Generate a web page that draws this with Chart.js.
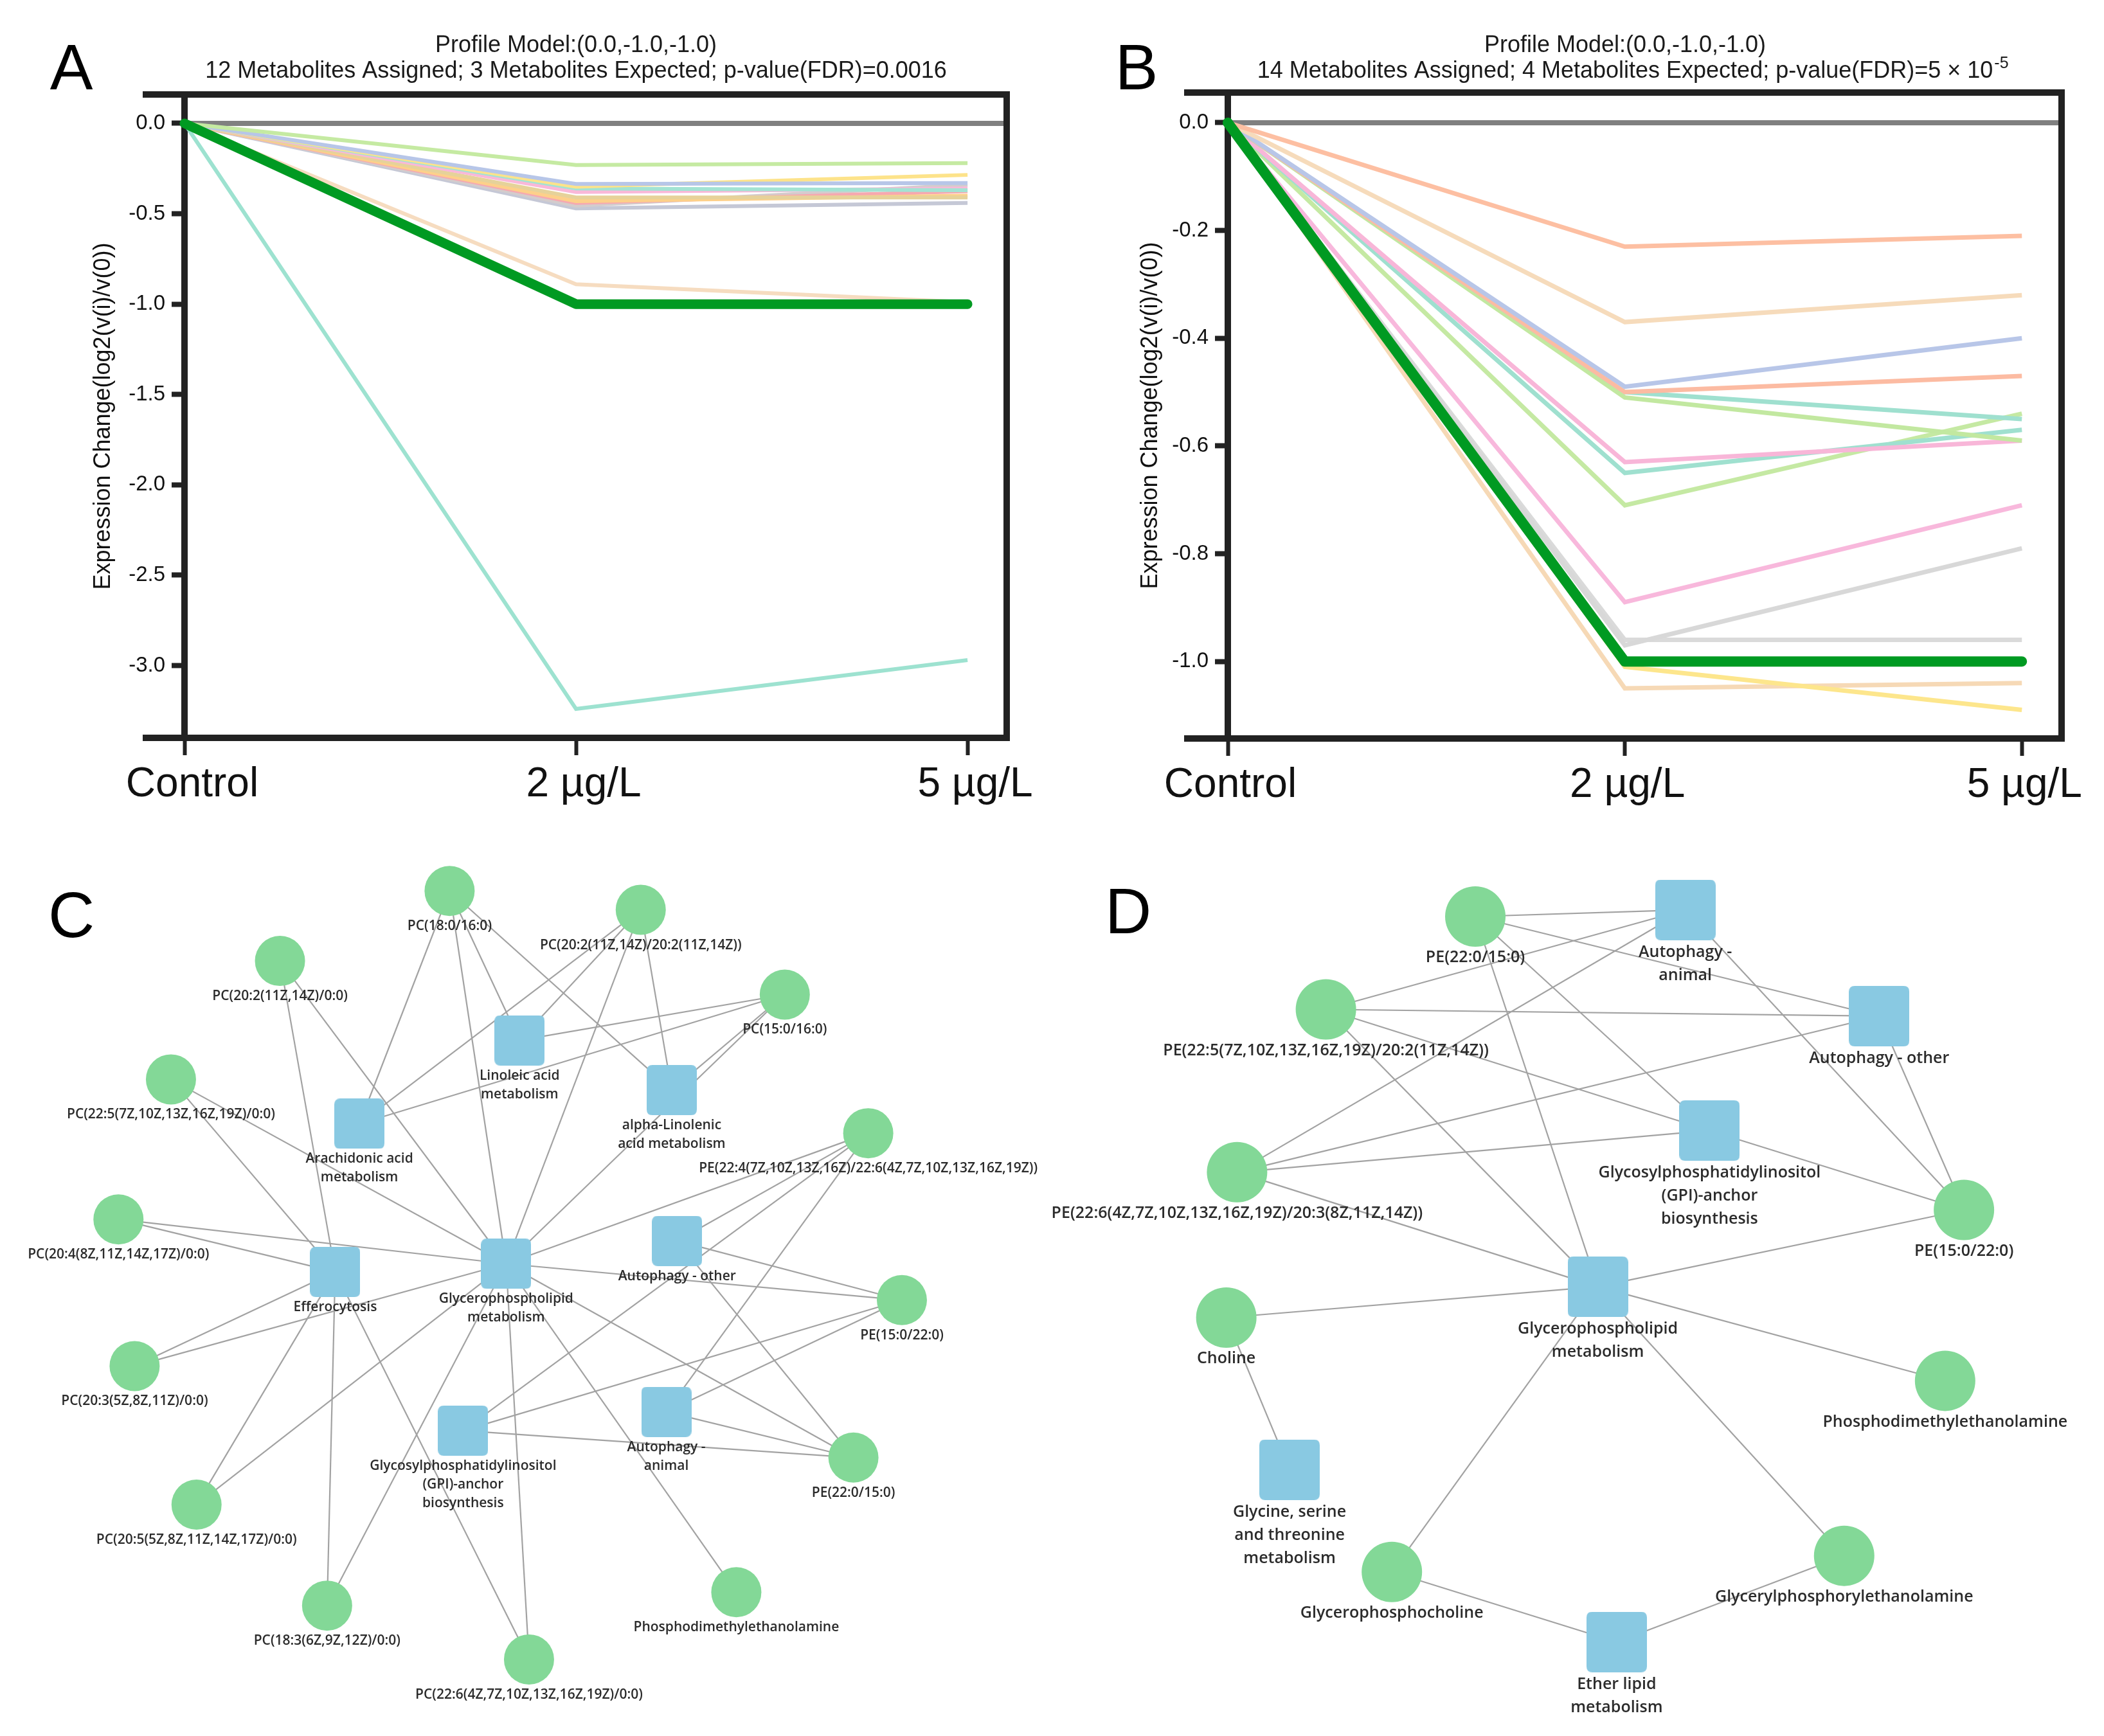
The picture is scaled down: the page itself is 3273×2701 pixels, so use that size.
<!DOCTYPE html>
<html><head><meta charset="utf-8">
<script src="https://cdn.jsdelivr.net/npm/chart.js@4.4.1/dist/chart.umd.min.js"></script>
<style>
html,body{margin:0;padding:0;background:#fff;}
#wrap{position:relative;width:3273px;height:2701px;background:#fff;overflow:hidden;}
canvas{position:absolute;display:block;}
</style></head><body><div id="wrap">
<canvas id="cA" width="1640" height="1300" style="left:0px;top:0px;width:1640px;height:1300px"></canvas>
<canvas id="cB" width="1633" height="1300" style="left:1640px;top:0px;width:1633px;height:1300px"></canvas>
<canvas id="cC" width="1640" height="1401" style="left:0px;top:1300px;width:1640px;height:1401px"></canvas>
<canvas id="cD" width="1713" height="1401" style="left:1560px;top:1300px;width:1713px;height:1401px"></canvas>
</div>
<script>
// ---------------- DATA ----------------
const doseLabels = ['Control', '2 µg/L', '5 µg/L'];
const doseIndex = [0, 1, 2];
const modelProfile = [0.0, -1.0, -1.0];

const yTicksA = [0, -0.5, -1.0, -1.5, -2.0, -2.5, -3.0];
const yTicksB = [0, -0.2, -0.4, -0.6, -0.8, -1.0];

// Panel A: 12 metabolite profiles
const profilesA = [
  [0, -0.23, -0.22],
  [0, -0.89, -0.99],
  [0, -3.24, -2.97],
  [0, -0.335, -0.33],
  [0, -0.35, -0.285],
  [0, -0.36, -0.37],
  [0, -0.38, -0.36],
  [0, -0.41, -0.41],
  [0, -0.43, -0.40],
  [0, -0.44, -0.375],
  [0, -0.455, -0.34],
  [0, -0.47, -0.44]
];
// Panel B: 14 metabolite profiles
const profilesB = [
  [0, -0.23, -0.21],
  [0, -0.37, -0.32],
  [0, -0.49, -0.40],
  [0, -0.50, -0.47],
  [0, -0.50, -0.55],
  [0, -0.51, -0.59],
  [0, -0.63, -0.59],
  [0, -0.65, -0.57],
  [0, -0.71, -0.54],
  [0, -0.89, -0.71],
  [0, -0.97, -0.79],
  [0, -0.96, -0.96],
  [0, -1.01, -1.09],
  [0, -1.05, -1.04]
];

// Panel C network
const nodeNamesC = [
  'PC(18:0/16:0)', 'PC(20:2(11Z,14Z)/20:2(11Z,14Z))', 'PC(20:2(11Z,14Z)/0:0)', 'PC(15:0/16:0)',
  'PC(22:5(7Z,10Z,13Z,16Z,19Z)/0:0)', 'PE(22:4(7Z,10Z,13Z,16Z)/22:6(4Z,7Z,10Z,13Z,16Z,19Z))',
  'PC(20:4(8Z,11Z,14Z,17Z)/0:0)', 'PE(15:0/22:0)', 'PC(20:3(5Z,8Z,11Z)/0:0)', 'PE(22:0/15:0)',
  'PC(20:5(5Z,8Z,11Z,14Z,17Z)/0:0)', 'PC(18:3(6Z,9Z,12Z)/0:0)', 'PC(22:6(4Z,7Z,10Z,13Z,16Z,19Z)/0:0)',
  'Phosphodimethylethanolamine',
  'Linoleic acid\nmetabolism', 'alpha-Linolenic\nacid metabolism', 'Arachidonic acid\nmetabolism',
  'Efferocytosis', 'Glycerophospholipid\nmetabolism', 'Autophagy - other',
  'Glycosylphosphatidylinositol\n(GPI)-anchor\nbiosynthesis', 'Autophagy -\nanimal'
];
const nodeKindsC = ['m','m','m','m','m','m','m','m','m','m','m','m','m','m','p','p','p','p','p','p','p','p'];
const nodeXC = [334, 476, 208, 583, 127, 645, 88, 670, 100, 634, 146, 243, 393, 547, 386, 499, 267, 249, 376, 503, 344, 495];
const nodeYC = [662, 676, 714, 739, 802, 842, 906, 966, 1015, 1083, 1118, 1193, 1233, 1183, 773, 810, 835, 945, 939, 922, 1063, 1049];
const edgesC = [
  [0,16],[0,18],[0,14],[0,15],
  [1,16],[1,14],[1,18],[1,15],
  [2,17],[2,18],
  [3,14],[3,16],[3,15],[3,18],
  [4,17],[4,18],
  [5,18],[5,19],[5,20],[5,21],
  [6,17],[6,18],
  [7,18],[7,19],[7,20],[7,21],
  [8,17],[8,18],
  [9,18],[9,19],[9,20],[9,21],
  [10,17],[10,18],
  [11,17],[11,18],
  [12,17],[12,18],
  [13,18]
];

// Panel D network
const nodeNamesD = [
  'PE(22:0/15:0)', 'PE(22:5(7Z,10Z,13Z,16Z,19Z)/20:2(11Z,14Z))', 'PE(22:6(4Z,7Z,10Z,13Z,16Z,19Z)/20:3(8Z,11Z,14Z))',
  'PE(15:0/22:0)', 'Choline', 'Phosphodimethylethanolamine', 'Glycerophosphocholine', 'Glycerylphosphorylethanolamine',
  'Autophagy -\nanimal', 'Autophagy - other', 'Glycosylphosphatidylinositol\n(GPI)-anchor\nbiosynthesis',
  'Glycerophospholipid\nmetabolism', 'Glycine, serine\nand threonine\nmetabolism', 'Ether lipid\nmetabolism'
];
const nodeKindsD = ['m','m','m','m','m','m','m','m','p','p','p','p','p','p'];
const nodeXD = [1096, 985, 919, 1459, 911, 1445, 1034, 1370, 1252, 1396, 1270, 1187, 958, 1201];
const nodeYD = [681, 750, 871, 899, 979, 1026, 1168, 1156, 676, 755, 840, 956, 1092, 1220];
const edgesD = [
  [0,8],[0,9],[0,10],[0,11],
  [1,8],[1,9],[1,10],[1,11],
  [2,8],[2,9],[2,10],[2,11],
  [3,8],[3,9],[3,10],[3,11],
  [4,11],[4,12],[5,11],[6,11],[6,13],[7,11],[7,13]
];

// ---------------- STYLE ----------------
const colorsA = ['#c5eaa2','#f6dcc0','#9de2d0','#b7c6e8','#fde38a','#a3e3d3','#f9b8d8','#e6d29a','#fdd08a','#f6a8b0','#d3cccc','#c5c8d6'];
const colorsB = ['#fdbfa2','#f6dbbb','#b8c6e8','#fcbba2','#9fe0cf','#c2e8a0','#f8b6d8','#9fe0cf','#c5e9a3','#f8b8dc','#d8d8d8','#dadada','#fde68c','#f6d9b6'];
const MODEL_COLOR = '#009a22';
const INK = '#222222';
const TITLE_FONT = "36px 'Liberation Sans', Arial, sans-serif";
const SUP_FONT = "25px 'Liberation Sans', Arial, sans-serif";

Chart.defaults.font.family = "'Liberation Sans', Arial, sans-serif";
Chart.defaults.color = '#111';

const framePlugin = {
  id: 'frame',
  beforeDatasetsDraw(chart) {
    const {ctx, chartArea: a, scales: {y}} = chart;
    const y0 = y.getPixelForValue(0);
    ctx.save();
    ctx.strokeStyle = '#808080'; ctx.lineWidth = 8;
    ctx.beginPath(); ctx.moveTo(a.left, y0); ctx.lineTo(a.right, y0); ctx.stroke();
    ctx.restore();
  },
  afterDraw(chart, args, o) {
    const {ctx, chartArea: a} = chart;
    ctx.save();
    ctx.strokeStyle = INK; ctx.lineWidth = 10; ctx.lineCap = 'butt';
    ctx.beginPath();
    ctx.moveTo(a.left - o.ext, a.top); ctx.lineTo(a.right + 5, a.top);
    ctx.moveTo(a.left - o.ext, a.bottom); ctx.lineTo(a.right + 5, a.bottom);
    ctx.moveTo(a.right, a.top); ctx.lineTo(a.right, a.bottom);
    ctx.stroke();
    // panel letter
    ctx.fillStyle = '#000';
    ctx.textAlign = 'center'; ctx.textBaseline = 'middle';
    ctx.font = "100px 'Liberation Sans', Arial, sans-serif";
    ctx.fillText(o.letter, o.letterX, o.letterY);
    // title lines
    ctx.fillStyle = '#1a1a1a';
    o.title.forEach((ln, i) => {
      const yy = o.titleY[i];
      ctx.font = TITLE_FONT;
      if (typeof ln === 'string') {
        ctx.textAlign = 'center';
        ctx.fillText(ln, o.titleX, yy);
      } else {
        const w1 = ctx.measureText(ln.text).width;
        const x0 = o.titleX - w1 / 2;
        ctx.textAlign = 'left';
        ctx.fillText(ln.text, x0, yy);
        ctx.font = SUP_FONT;
        ctx.fillText(ln.sup, x0 + w1 + 2, yy - 12);
      }
    });
    ctx.restore();
  }
};

function makeLineChart(id, profiles, colors, lineW, modelW, yMin, yMax, yTicks, yAxisW, xAxisH, titlePad, labelShift, frameOpts, padding) {
  const datasets = [{
    data: modelProfile.map((v, i) => ({x: doseIndex[i], y: v})),
    borderColor: MODEL_COLOR, borderWidth: modelW, borderCapStyle: 'round', borderJoinStyle: 'round',
    pointRadius: 0, order: 0, clip: false
  }];
  profiles.forEach((p, k) => datasets.push({
    data: p.map((v, i) => ({x: doseIndex[i], y: v})),
    borderColor: colors[k], borderWidth: lineW, borderJoinStyle: 'miter',
    pointRadius: 0, order: 1 + k, clip: false
  }));
  return new Chart(document.getElementById(id), {
    type: 'line',
    data: {datasets},
    options: {
      responsive: false, animation: false, devicePixelRatio: 1, events: [],
      layout: {padding, autoPadding: false},
      plugins: {legend: {display: false}, tooltip: {enabled: false}, title: {display: false}, frame: frameOpts},
      scales: {
        x: {
          type: 'linear', min: 0, max: 2.1,
          afterBuildTicks: s => { s.ticks = doseIndex.map(v => ({value: v})); },
          afterFit: s => { s.height = xAxisH; },
          ticks: {callback: (v, i) => doseLabels[i], font: {size: 64}, color: '#111', padding: 8, maxRotation: 0, autoSkip: false, labelOffset: labelShift},
          grid: {drawOnChartArea: false, drawTicks: true, tickLength: 27, tickWidth: 6, tickColor: INK},
          border: {display: false}
        },
        y: {
          type: 'linear', min: yMin, max: yMax,
          afterBuildTicks: s => { s.ticks = yTicks.map(v => ({value: v})); },
          afterFit: s => { s.width = yAxisW; },
          ticks: {callback: v => (v < 0 ? '-' : '') + Math.abs(v).toFixed(1), font: {size: 33}, color: '#111', padding: 10},
          grid: {drawOnChartArea: false, drawTicks: true, tickLength: 20, tickWidth: 8, tickColor: INK},
          border: {display: true, width: 10, color: INK},
          title: {display: true, text: 'Expression Change(log2(v(i)/v(0))', font: {size: 36}, color: '#111', padding: {top: titlePad, bottom: 0}}
        }
      }
    },
    plugins: [framePlugin]
  });
}

makeLineChart('cA', profilesA, colorsA, 6, 15, -3.4, 0.16, yTicksA, 287, 152, 139, 12,
  {ext: 65, letter: 'A', letterX: 111, letterY: 111, titleX: 896, titleY: [71, 111],
   title: ['Profile Model:(0.0,-1.0,-1.0)', '12 Metabolites Assigned; 3 Metabolites Expected; p-value(FDR)=0.0016']},
  {top: 147, left: 0, right: 74, bottom: 0});

makeLineChart('cB', profilesB, colorsB, 7, 16, -1.143, 0.056, yTicksB, 270, 151, 128, 4,
  {ext: 68, letter: 'B', letterX: 128, letterY: 111, titleX: 888, titleY: [71, 111],
   title: ['Profile Model:(0.0,-1.0,-1.0)', {text: '14 Metabolites Assigned; 4 Metabolites Expected; p-value(FDR)=5 \u00d7 10', sup: '-5'}]},
  {top: 144, left: 0, right: 66, bottom: 0});

// ---------------- NETWORKS ----------------
const NODE_GREEN = '#83d897';
const NODE_BLUE = '#89c9e2';
function squareImg(size, color, r) {
  const c = document.createElement('canvas'); c.width = size; c.height = size;
  const g = c.getContext('2d'); g.fillStyle = color;
  g.beginPath();
  g.moveTo(r, 0); g.lineTo(size - r, 0); g.quadraticCurveTo(size, 0, size, r);
  g.lineTo(size, size - r); g.quadraticCurveTo(size, size, size - r, size);
  g.lineTo(r, size); g.quadraticCurveTo(0, size, 0, size - r);
  g.lineTo(0, r); g.quadraticCurveTo(0, 0, r, 0);
  g.closePath(); g.fill();
  return c;
}

const netPlugin = {
  id: 'net',
  afterDatasetsDraw(chart, args, o) {
    const ctx = chart.ctx;
    const meta = chart.getDatasetMeta(0);
    ctx.save();
    ctx.font = `600 ${o.size}px 'Open Sans', sans-serif`;
    ctx.fillStyle = '#2b2b2b'; ctx.textAlign = 'center'; ctx.textBaseline = 'middle';
    meta.data.forEach((el, i) => {
      const lines = o.names[i].split('\n');
      const off = o.kinds[i] === 'm' ? o.offM : o.offP;
      lines.forEach((t, j) => ctx.fillText(t, el.x, el.y + off + j * o.lh));
    });
    ctx.fillStyle = '#000';
    ctx.font = "100px 'Liberation Sans', Arial, sans-serif";
    ctx.fillText(o.letter, o.letterX, o.letterY);
    ctx.restore();
  }
};

function makeNet(id, names, kinds, xs, ys, edges, xMin, xMax, yMin, yMax, circR, sqSize, labelOpts) {
  const pts = xs.map((x, i) => ({x, y: ys[i]}));
  const sq = squareImg(sqSize, NODE_BLUE, 9);
  const datasets = [{
    data: pts,
    pointStyle: kinds.map(k => k === 'm' ? 'circle' : sq),
    pointRadius: kinds.map(k => k === 'm' ? circR : sqSize / 2),
    pointBackgroundColor: kinds.map(k => k === 'm' ? NODE_GREEN : NODE_BLUE),
    pointBorderWidth: 0, showLine: false, order: 0, clip: false
  }];
  edges.forEach(([a, b]) => datasets.push({
    data: [pts[a], pts[b]], showLine: true, borderColor: '#a2a2a2', borderWidth: 2.2,
    pointRadius: 0, order: 1, clip: false
  }));
  return new Chart(document.getElementById(id), {
    type: 'scatter',
    data: {datasets},
    options: {
      responsive: false, animation: false, devicePixelRatio: 1, events: [],
      layout: {padding: 0, autoPadding: false},
      plugins: {legend: {display: false}, tooltip: {enabled: false}, net: Object.assign({names, kinds}, labelOpts)},
      scales: {
        x: {type: 'linear', display: false, min: xMin, max: xMax},
        y: {type: 'linear', display: false, min: yMin, max: yMax, reverse: true}
      }
    },
    plugins: [netPlugin]
  });
}

const S = 2.094;
makeNet('cC', nodeNamesC, nodeKindsC, nodeXC, nodeYC, edgesC, 0, 1640 / S, 1300 / S, 2701 / S, 39, 78,
  {size: 21, offM: 55, offP: 55, lh: 29, letter: 'C', letterX: 111, letterY: 130});
makeNet('cD', nodeNamesD, nodeKindsD, nodeXD, nodeYD, edgesD, 1560 / S, 3273 / S, 1300 / S, 2701 / S, 47, 94,
  {size: 25, offM: 64, offP: 66, lh: 36, letter: 'D', letterX: 195, letterY: 124});
</script>
</body></html>
